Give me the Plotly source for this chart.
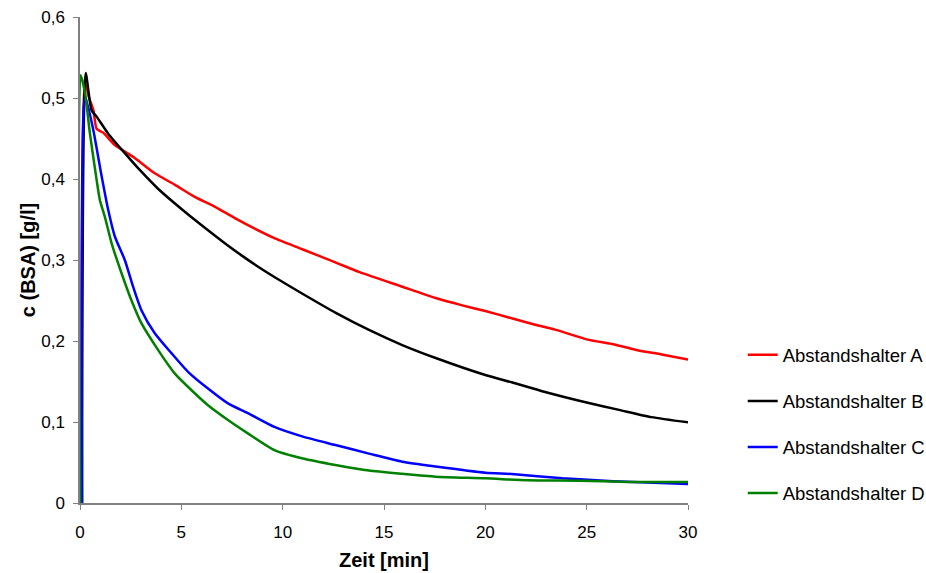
import plotly.graph_objects as go

# Zeit [min] / c (BSA) [g/l]
t_A = [0.08, 0.25, 0.45, 0.66, 0.82, 1.15, 1.72, 2.7, 3.69, 4.67, 5.66, 6.64, 7.62, 8.6, 9.59,
       11.0, 12.6, 13.8, 15.9, 17.55, 18.86, 20.0, 21.3, 22.46, 23.45, 25.0, 26.3, 27.45, 28.77, 30.0]
c_A = [0.0, 0.518, 0.50, 0.485, 0.462, 0.457, 0.442, 0.426, 0.407, 0.393, 0.378, 0.366, 0.352, 0.339, 0.327,
       0.313, 0.297, 0.285, 0.267, 0.253, 0.244, 0.237, 0.228, 0.220, 0.214, 0.202, 0.196, 0.189, 0.183, 0.177]

t_B = [0.1, 0.28, 0.57, 0.82, 1.39, 2.21, 3.03, 3.85, 4.67, 5.49, 6.3, 7.13, 7.95, 8.77, 9.59,
       11.0, 12.6, 14.26, 15.9, 17.55, 20.0, 21.3, 22.95, 25.0, 26.6, 28.2, 30.0]
c_B = [0.0, 0.531, 0.485, 0.477, 0.456, 0.432, 0.409, 0.388, 0.370, 0.353, 0.337, 0.321, 0.306, 0.292, 0.279,
       0.258, 0.235, 0.2136, 0.195, 0.179, 0.158, 0.149, 0.137, 0.124, 0.115, 0.106, 0.0996]

t_C = [0.1, 0.25, 0.66, 1.07, 1.39, 1.72, 2.21, 2.62, 3.03, 3.69, 4.51, 5.33, 6.3, 7.3, 8.28, 9.59,
       11.0, 12.6, 14.26, 15.9, 17.55, 20.0, 21.3, 23.8, 26.3, 30.0]
c_C = [0.0, 0.502, 0.46, 0.403, 0.362, 0.329, 0.300, 0.267, 0.238, 0.2095, 0.185, 0.162, 0.1416, 0.123, 0.111, 0.094,
       0.082, 0.0716, 0.061, 0.051, 0.045, 0.0374, 0.0358, 0.0305, 0.027, 0.0235]

t_D = [0.01, 0.03, 0.25, 0.49, 0.82, 0.98, 1.23, 1.56, 2.05, 2.54, 3.03, 3.85, 4.67, 5.49, 6.3, 7.3, 8.28, 9.59,
       11.0, 12.6, 14.26, 15.9, 17.55, 20.0, 22.1, 24.6, 27.05, 30.0]
c_D = [0.0, 0.528, 0.506, 0.456, 0.399, 0.374, 0.353, 0.3206, 0.2836, 0.25, 0.222, 0.189, 0.160, 0.1395, 0.121, 0.1025, 0.086, 0.0654,
       0.055, 0.047, 0.040, 0.036, 0.0325, 0.0305, 0.028, 0.0275, 0.026, 0.026]

names = ["Abstandshalter A", "Abstandshalter B", "Abstandshalter C", "Abstandshalter D"]
colors = ["#FF0000", "#000000", "#0000FF", "#008000"]
series = [(t_A, c_A), (t_B, c_B), (t_C, c_C), (t_D, c_D)]

x_ticks = [0, 5, 10, 15, 20, 25, 30]
y_ticks = [0, 0.1, 0.2, 0.3, 0.4, 0.5, 0.6]

fig = go.Figure()
for i, ((t, c), n, col) in enumerate(zip(series, names, colors)):
    fig.add_trace(go.Scatter(x=t, y=c, mode="lines", name=n, legendgroup=str(i),
                             line=dict(color=col, width=2.5, shape="spline", smoothing=0.6)))

font = "Liberation Sans, Arial, sans-serif"
fig.update_layout(
    width=926, height=573,
    margin=dict(l=80, r=238, t=17, b=70, autoexpand=False),
    paper_bgcolor="white", plot_bgcolor="white",
    separators=",.",
    font=dict(family=font, size=17, color="black"),
    showlegend=True,
    legend=dict(x=1.09, xanchor="left", y=0.343, yanchor="top",
                font=dict(family=font, size=18.5, color="black"),
                tracegroupgap=19, bgcolor="rgba(0,0,0,0)"),
    xaxis=dict(range=[0, 30], tickvals=x_ticks, showgrid=False, zeroline=False,
               showline=True, linecolor="#808080", linewidth=1.5,
               ticks="outside", ticklen=5, tickcolor="#808080",
               tickfont=dict(size=17), ticklabelstandoff=8,
               title=dict(text="<b>Zeit [min]</b>", font=dict(size=20), standoff=12)),
    yaxis=dict(range=[0, 0.6], tickvals=y_ticks, showgrid=False, zeroline=False,
               showline=True, linecolor="#808080", linewidth=1.5,
               ticks="outside", ticklen=5, tickcolor="#808080",
               tickfont=dict(size=17), ticklabelstandoff=5,
               title=dict(text="<b>c (BSA) [g/l]</b>", font=dict(size=20), standoff=0)),
)

fig.write_html("out.html")
